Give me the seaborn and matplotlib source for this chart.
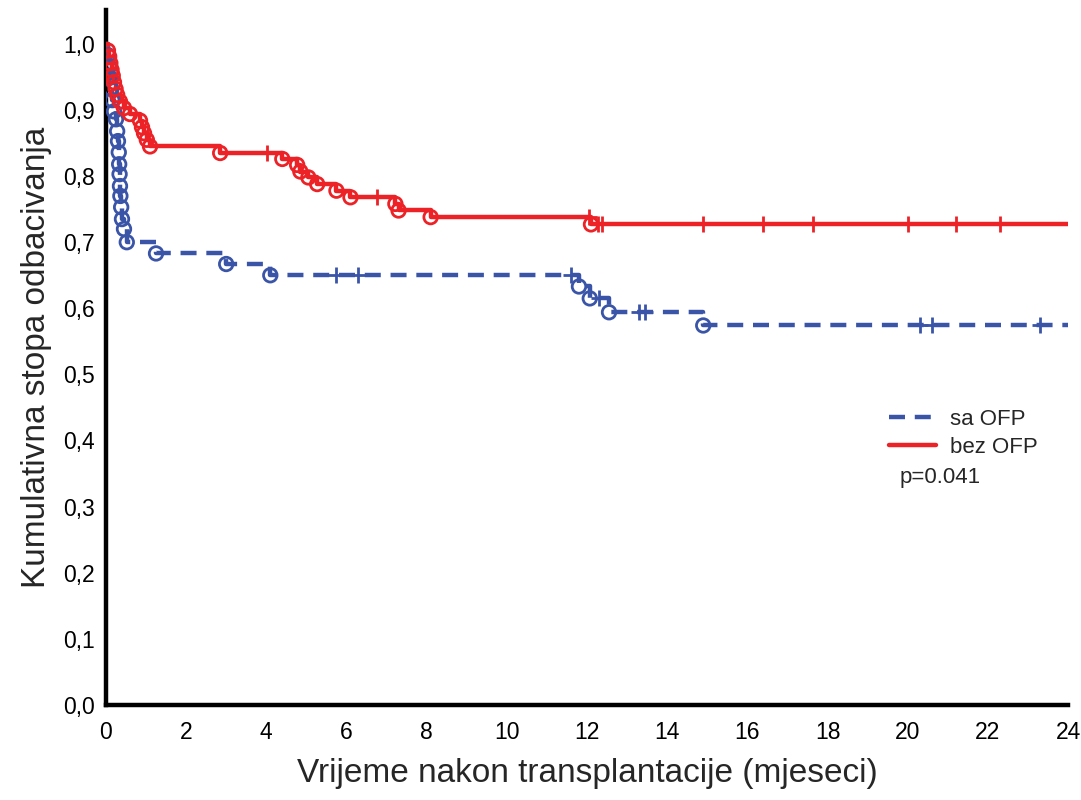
import numpy as np
import pandas as pd
import matplotlib
matplotlib.use("Agg")
import matplotlib.pyplot as plt
import seaborn as sns

# Kaplan-Meier steps (months, cumulative proportion)
sa_event_t = [0.05, 0.08, 0.10, 0.13, 0.16, 0.20, 0.25, 0.28, 0.30, 0.32, 0.33, 0.34,
              0.35, 0.36, 0.38, 0.40, 0.45, 0.52, 1.25, 3.0, 4.1, 11.8, 12.07, 12.55, 14.9]
sa_event_s = [0.983, 0.966, 0.949, 0.932, 0.915, 0.898, 0.886, 0.868, 0.853, 0.836, 0.818, 0.803,
              0.785, 0.770, 0.753, 0.735, 0.720, 0.700, 0.683, 0.667, 0.650, 0.633, 0.615, 0.594, 0.574]
sa_censor_t = [5.75, 6.3, 11.6, 12.3, 13.3, 13.45, 20.3, 20.6, 23.3]

bez_event_t = [0.05, 0.08, 0.11, 0.14, 0.17, 0.20, 0.24, 0.28, 0.35, 0.45, 0.60, 0.85,
               0.90, 0.95, 1.02, 1.10, 2.85, 4.4, 4.77, 4.85, 5.05, 5.27, 5.75, 6.1,
               7.22, 7.3, 8.1, 12.1]
bez_event_s = [0.990, 0.981, 0.971, 0.961, 0.952, 0.942, 0.932, 0.923, 0.913, 0.903, 0.894, 0.884,
               0.874, 0.865, 0.855, 0.845, 0.835, 0.826, 0.817, 0.807, 0.798, 0.788, 0.778, 0.768,
               0.758, 0.748, 0.738, 0.727]
bez_censor_t = [4.03, 6.75, 12.05, 12.27, 12.37, 14.9, 16.4, 17.65, 20.0, 21.2, 22.3]

y_ticks = [0.0, 0.1, 0.2, 0.3, 0.4, 0.5, 0.6, 0.7, 0.8, 0.9, 1.0]
y_ticklabels = ["0,0", "0,1", "0,2", "0,3", "0,4", "0,5", "0,6", "0,7", "0,8", "0,9", "1,0"]
x_ticks = list(range(0, 25, 2))
x_max = 24
p_text = "p=0.041"

BLUE = "#3a55a8"
RED = "#ec2227"


def step_frame(event_t, event_s):
    t = [0.0] + list(event_t) + [x_max]
    s = [1.0] + list(event_s) + [event_s[-1]]
    return pd.DataFrame({"t": t, "s": s})


def censor_frame(event_t, event_s, censor_t):
    t_arr = np.array([0.0] + list(event_t))
    s_arr = np.array([1.0] + list(event_s))
    idx = np.searchsorted(t_arr, censor_t, side="right") - 1
    return pd.DataFrame({"t": censor_t, "s": s_arr[idx]})


sns.set_style("white")
plt.rcParams["font.family"] = ["Liberation Sans", "DejaVu Sans"]

fig = plt.figure(figsize=(10.81, 8), dpi=100)
ax = fig.add_axes([0.098, 0.119, 0.89, 0.869])

groups = [
    ("sa OFP", sa_event_t, sa_event_s, sa_censor_t, BLUE, (0, (3.6, 2.2))),
    ("bez OFP", bez_event_t, bez_event_s, bez_censor_t, RED, "-"),
]

handles = []
for label, et, es, ct, color, ls in groups:
    sf = step_frame(et, es)
    sns.lineplot(data=sf, x="t", y="s", ax=ax, color=color, linewidth=3.2,
                 drawstyle="steps-post", estimator=None, sort=False, zorder=3)
    line = ax.lines[-1]
    line.set_linestyle(ls)
    line.set_label(label)
    handles.append(line)

    ev = pd.DataFrame({"t": et, "s": es})
    sns.scatterplot(data=ev, x="t", y="s", ax=ax, marker="o", s=95, zorder=4)
    coll = ax.collections[-1]
    coll.set_facecolor("none")
    coll.set_edgecolor(color)
    coll.set_linewidth(2)

    cf = censor_frame(et, es, ct)
    sns.scatterplot(data=cf, x="t", y="s", ax=ax, marker="+", s=140,
                    color=color, linewidth=2, zorder=4)

ax.set_xlim(0, x_max)
ax.set_ylim(0, 1.052)
ax.set_xticks(x_ticks)
ax.set_yticks(y_ticks)
ax.set_yticklabels(y_ticklabels)
ax.tick_params(axis="both", direction="in", length=6, width=3, labelsize=16.5,
               colors="black")
ax.tick_params(axis="x", pad=12)
ax.tick_params(axis="y", pad=8)

for side in ["top", "right"]:
    ax.spines[side].set_visible(False)
for side in ["left", "bottom"]:
    ax.spines[side].set_linewidth(3.2)
    ax.spines[side].set_color("black")

ax.set_xlabel("Vrijeme nakon transplantacije (mjeseci)", fontsize=24, labelpad=10)
ax.set_ylabel("Kumulativna stopa odbacivanja", fontsize=24, labelpad=8)

leg = ax.legend(handles=handles, loc="upper left", bbox_to_anchor=(0.805, 0.438),
                frameon=False, fontsize=16, handlelength=2.1, handletextpad=0.65,
                labelspacing=0.3, borderaxespad=0)
ax.text(0.825, 0.327, p_text, transform=ax.transAxes, fontsize=16, va="center")

fig.savefig("out.png", dpi=100)
